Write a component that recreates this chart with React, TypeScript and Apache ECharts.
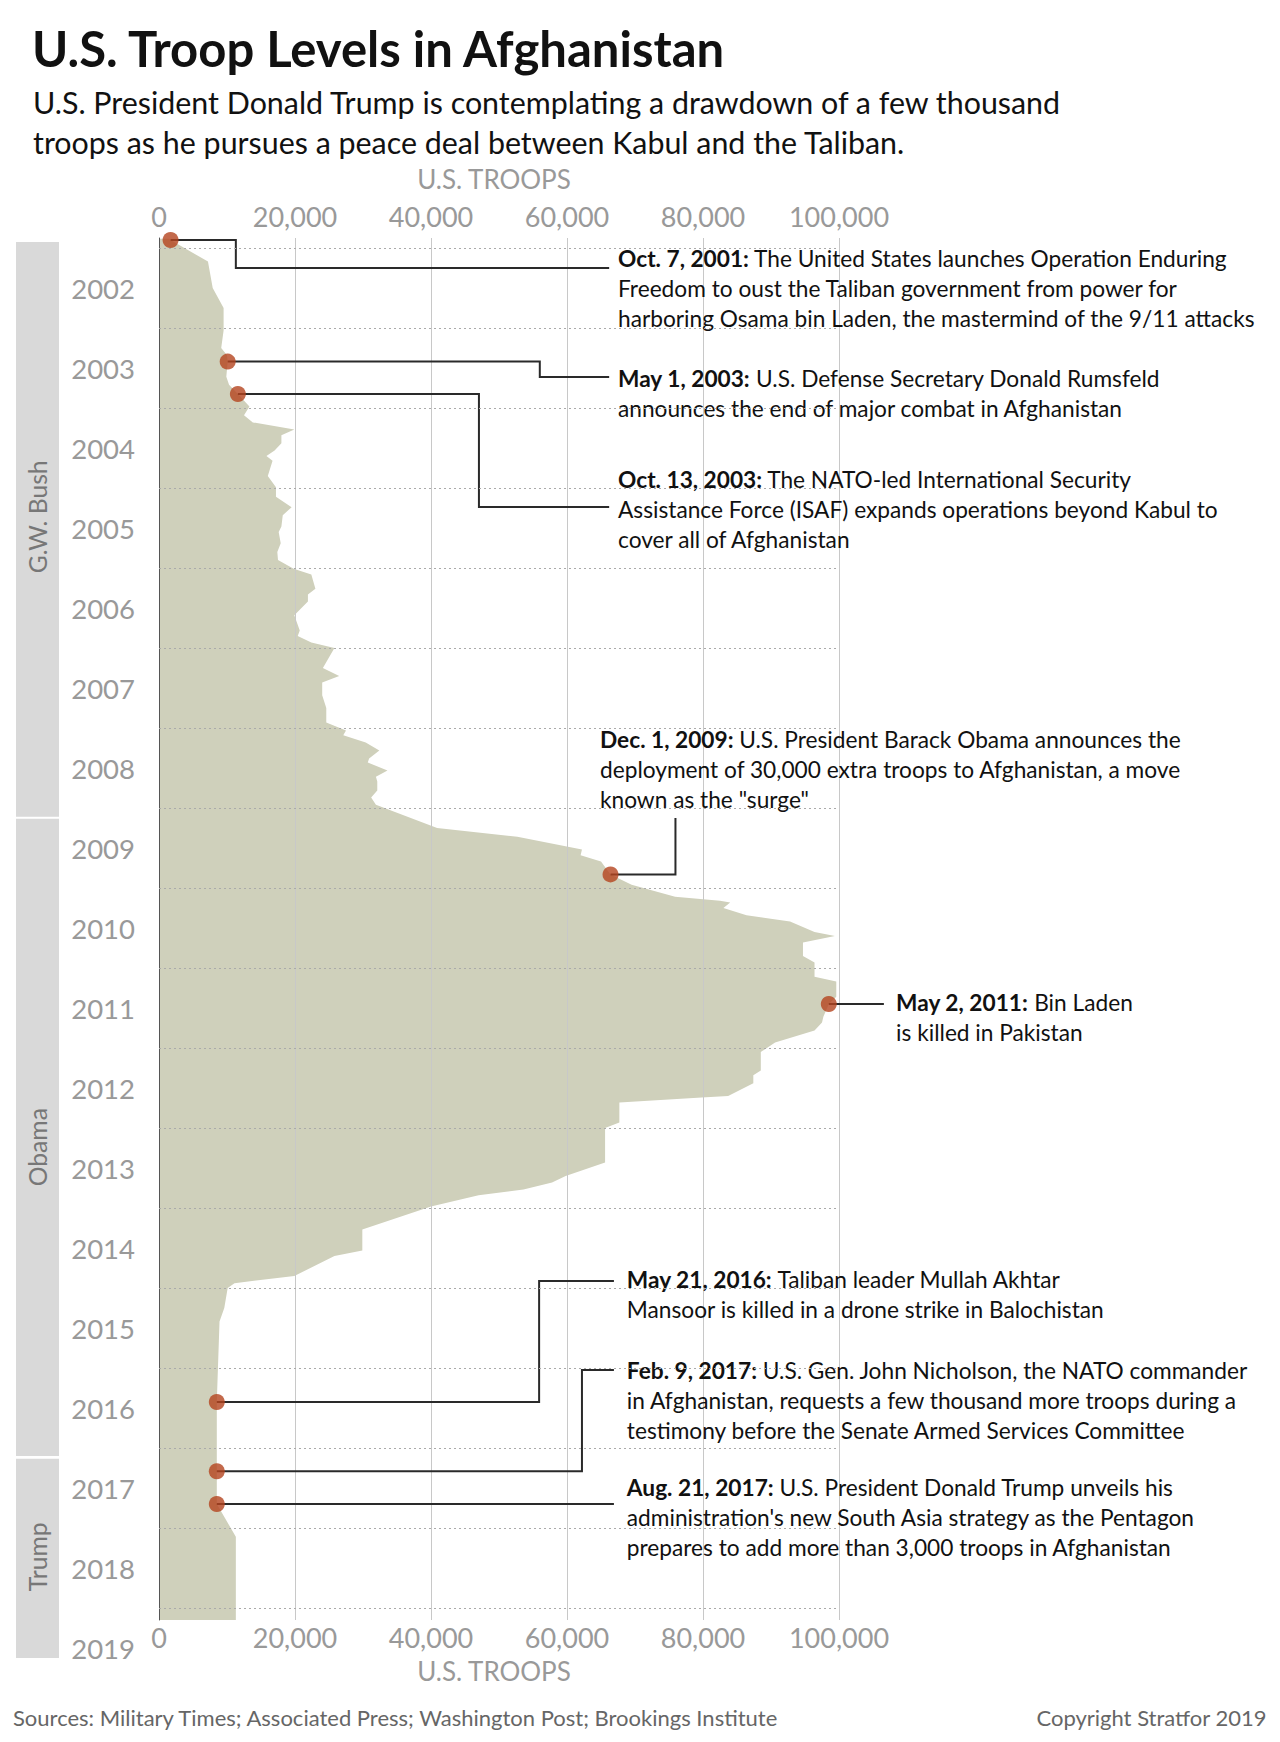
import React, { useEffect, useRef } from "react";
import * as echarts from "echarts";

const FONT = "Lato, 'Open Sans', sans-serif";

// ---------- texts ----------
const TITLE = "U.S. Troop Levels in Afghanistan";
const SUBTITLE =
  "U.S. President Donald Trump is contemplating a drawdown of a few thousand\ntroops as he pursues a peace deal between Kabul and the Taliban.";
const SOURCE_NOTE =
  "Sources: Military Times; Associated Press; Washington Post; Brookings Institute";
const COPYRIGHT = "Copyright Stratfor 2019";
const AXIS_NAME = "U.S. TROOPS";

// ---------- data: troop level curve (fractional year, troops) ----------
const TROOP_YEARS = [
  2001.885, 2001.9, 2002.17, 2002.5, 2002.75, 2003.03, 2003.25, 2003.34, 2003.42,
  2003.61, 2003.71, 2003.825, 2003.98, 2004.09, 2004.18, 2004.27, 2004.34, 2004.44,
  2004.53, 2004.6, 2004.66, 2004.85, 2004.99, 2005.11, 2005.24, 2005.34, 2005.48,
  2005.55, 2005.69, 2005.8, 2005.9, 2006.01, 2006.08, 2006.26, 2006.33, 2006.42,
  2006.59, 2006.78, 2006.85, 2006.93, 2007.0, 2007.25, 2007.35, 2007.43, 2007.59,
  2007.75, 2007.93, 2008.03, 2008.09, 2008.18, 2008.28, 2008.38, 2008.43, 2008.53,
  2008.61, 2008.67, 2008.78, 2008.87, 2008.96, 2009.25, 2009.36, 2009.52, 2009.59,
  2009.67, 2009.83, 2009.96, 2010.11, 2010.16, 2010.18, 2010.25, 2010.34, 2010.42,
  2010.55, 2010.6, 2010.68, 2010.85, 2010.93, 2011.11, 2011.17, 2011.36, 2011.45,
  2011.61, 2011.68, 2011.78, 2011.93, 2012.05, 2012.28, 2012.34, 2012.44, 2012.6,
  2012.62, 2012.68, 2012.93, 2013.0, 2013.43, 2013.6, 2013.68, 2013.77, 2013.84,
  2013.98, 2014.27, 2014.53, 2014.6, 2014.85, 2014.94, 2015.0, 2015.25, 2015.42,
  2016.425, 2017.29, 2017.7, 2018.11, 2019.15,
];
const TROOP_LEVELS = [
  1500, 1700, 7200, 7900, 9500, 9500, 9150, 10000, 10100,
  9900, 10300, 11600, 13300, 12500, 13800, 19900, 18000, 18000,
  17000, 15800, 16700, 16000, 17200, 17200, 19500, 18200, 18000,
  17600, 17900, 17400, 17500, 19800, 22400, 23000, 21900, 21900,
  19900, 20700, 20400, 22400, 25800, 24100, 26500, 24000, 24000,
  24600, 24600, 27500, 27100, 30400, 32400, 30900, 30700, 33600,
  31900, 32100, 32100, 31200, 31900, 40900, 52700, 62200, 62000,
  65000, 66400, 69500, 75900, 82500, 84000, 83000, 86400, 92800,
  96400, 99400, 94700, 94700, 96400, 96400, 99600, 99600, 98500,
  97700, 97500, 96400, 90600, 88500, 88500, 87400, 87400, 83700,
  79800, 67700, 67700, 65600, 65600, 59800, 57800, 53600, 47000,
  40000, 29900, 29900, 25800, 19900, 11100, 10100, 9600, 8900,
  8500, 8500, 8500, 11300, 11300,
];

// axis values
const TROOP_MIN = 0;
const TROOP_MAX = 100000;
const TROOP_STEP = 20000;
const YEAR_LABELS = [
  2002, 2003, 2004, 2005, 2006, 2007, 2008, 2009, 2010, 2011, 2012, 2013, 2014,
  2015, 2016, 2017, 2018, 2019,
];
const YEAR_RULES = [
  2002, 2003, 2004, 2005, 2006, 2007, 2008, 2009, 2010, 2011, 2012, 2013, 2014,
  2015, 2016, 2017, 2018, 2019,
];
const PLOT_YEAR_START = 2001.875;
const PLOT_YEAR_END = 2019.15;
const LABEL_YEAR_END = 2019.625;

// presidencies
const PRESIDENTS = ["G.W. Bush", "Obama", "Trump"];
const TERM_STARTS = [2001.925, 2009.135, 2017.135];
const TERM_ENDS = [2009.11, 2017.1, 2019.625];

// events
const EVENT_DATES = [
  "Oct. 7, 2001:",
  "May 1, 2003:",
  "Oct. 13, 2003:",
  "Dec. 1, 2009:",
  "May 2, 2011:",
  "May 21, 2016:",
  "Feb. 9, 2017:",
  "Aug. 21, 2017:",
];
const EVENT_TEXTS = [
  "The United States launches Operation Enduring\nFreedom to oust the Taliban government from power for\nharboring Osama bin Laden, the mastermind of the 9/11 attacks",
  "U.S. Defense Secretary Donald Rumsfeld\nannounces the end of major combat in Afghanistan",
  "The NATO-led International Security\nAssistance Force (ISAF) expands operations beyond Kabul to\ncover all of Afghanistan",
  "U.S. President Barack Obama announces the\ndeployment of 30,000 extra troops to Afghanistan, a move\nknown as the \"surge\"",
  "Bin Laden\nis killed in Pakistan",
  "Taliban leader Mullah Akhtar\nMansoor is killed in a drone strike in Balochistan",
  "U.S. Gen. John Nicholson, the NATO commander\nin Afghanistan, requests a few thousand more troops during a\ntestimony before the Senate Armed Services Committee",
  "U.S. President Donald Trump unveils his\nadministration's new South Asia strategy as the Pentagon\nprepares to add more than 3,000 troops in Afghanistan",
];
const EVENT_YEARS = [2001.9, 2003.42, 2003.825, 2009.83, 2011.45, 2016.425, 2017.29, 2017.7];
const EVENT_TROOPS = [1700, 10100, 11600, 66400, 98500, 8500, 8500, 8500];

// ---------- annotation layout (in axis units: [troops, year]) ----------
const LEADER_PATHS: number[][][] = [
  [[11300, 2001.9], [11300, 2002.25], [66200, 2002.25]],
  [[56000, 2003.42], [56000, 2003.6125], [66200, 2003.6125]],
  [[47050, 2003.825], [47050, 2005.2375], [66200, 2005.2375]],
  [[75950, 2009.83], [75950, 2009.125]],
  [[106600, 2011.45]],
  [[55900, 2016.425], [55900, 2014.9125], [66900, 2014.9125]],
  [[62200, 2017.29], [62200, 2016.025], [66900, 2016.025]],
  [[66900, 2017.7]],
];
const TEXT_ANCHORS: number[][] = [
  [67500, 2001.9375],
  [67500, 2003.4375],
  [67500, 2004.7],
  [64850, 2007.95],
  [108400, 2011.2375],
  [68800, 2014.7],
  [68800, 2015.8375],
  [68800, 2017.3],
];
// vertical centre of each presidency label (year units)
const PRESIDENT_LABEL_YEARS = [2005.36, 2013.24, 2018.36];

// ---------- styles ----------
const AREA_COLOR = "#cfd0bb";
const MARKER_COLOR = "#b4441e";
const GRAY_TEXT = "#999999";
const BAND_COLOR = "#d9d9d9";

const fmtThousands = (v: number) =>
  Math.round(v).toString().replace(/\B(?=(\d{3})+(?!\d))/g, ",");

export default function App() {
  const ref = useRef<HTMLDivElement>(null);

  useEffect(() => {
    document.body.style.margin = "0";
    if (!ref.current) return;
    const chart = echarts.init(ref.current, undefined, { renderer: "svg" });

    const tickLabel = {
      color: GRAY_TEXT,
      fontSize: 27,
      fontFamily: FONT,
      formatter: (v: number) => fmtThousands(v),
    };

    const option: any = {
      animation: false,
      backgroundColor: "#ffffff",
      title: [
        {
          text: TITLE,
          left: 32,
          top: 23,
          padding: 0,
          textStyle: { fontFamily: FONT, fontSize: 49, fontWeight: "bold", color: "#111111" },
        },
        {
          text: SUBTITLE,
          left: 33,
          top: 82,
          padding: 0,
          textStyle: {
            fontFamily: FONT,
            fontSize: 30.4,
            fontWeight: "normal",
            lineHeight: 40,
            color: "#111111",
          },
        },
        {
          text: SOURCE_NOTE,
          left: 13,
          top: 1706,
          padding: 0,
          textStyle: { fontFamily: FONT, fontSize: 22, fontWeight: "normal", color: "#666666" },
        },
        {
          text: COPYRIGHT,
          right: 13,
          top: 1706,
          padding: 0,
          textStyle: { fontFamily: FONT, fontSize: 22, fontWeight: "normal", color: "#666666" },
        },
      ],
      grid: [
        { left: 159, top: 238, width: 680, height: 1382, outerBoundsMode: "none" },
        { left: 16, top: 238, width: 43, height: 1420, outerBoundsMode: "none" },
      ],
      xAxis: [
        {
          gridIndex: 0,
          type: "value",
          position: "top",
          min: TROOP_MIN,
          max: TROOP_MAX,
          interval: TROOP_STEP,
          axisLine: { show: false, onZero: false },
          axisTick: { show: false },
          axisLabel: { ...tickLabel, margin: 8 },
          splitLine: { show: true, lineStyle: { color: "#c8c8c8", width: 1 } },
          name: AXIS_NAME,
          nameLocation: "middle",
          nameGap: 46,
          nameTextStyle: { color: GRAY_TEXT, fontSize: 26, fontFamily: FONT, padding: [0, 10, 0, 0] },
        },
        {
          gridIndex: 0,
          type: "value",
          position: "bottom",
          min: TROOP_MIN,
          max: TROOP_MAX,
          interval: TROOP_STEP,
          axisLine: { show: false, onZero: false },
          axisTick: { show: false },
          axisLabel: { ...tickLabel, margin: 4 },
          splitLine: { show: false },
          name: AXIS_NAME,
          nameLocation: "middle",
          nameGap: 38,
          nameTextStyle: { color: GRAY_TEXT, fontSize: 26, fontFamily: FONT, padding: [0, 10, 0, 0] },
        },
        { gridIndex: 1, type: "value", min: 0, max: 1, show: false },
      ],
      yAxis: [
        {
          gridIndex: 0,
          type: "value",
          inverse: true,
          min: PLOT_YEAR_START,
          max: PLOT_YEAR_END,
          axisLine: { show: true, onZero: false, lineStyle: { color: "#555555", width: 1 } },
          axisTick: { show: false },
          axisLabel: { show: false },
          splitLine: { show: false },
        },
        {
          gridIndex: 1,
          type: "value",
          inverse: true,
          position: "right",
          min: PLOT_YEAR_START,
          max: LABEL_YEAR_END,
          interval: 0.125,
          axisLine: { show: false },
          axisTick: { show: false },
          splitLine: { show: false },
          axisLabel: {
            show: true,
            align: "right",
            margin: 76,
            color: GRAY_TEXT,
            fontSize: 27.5,
            fontFamily: FONT,
            formatter: (v: number) => {
              const y = Math.floor(v + 1e-6);
              const frac = v - y;
              return Math.abs(frac - 0.5) < 0.01 && YEAR_LABELS.indexOf(y) >= 0 ? String(y) : "";
            },
          },
        },
      ],
      series: [
        // troop level area
        {
          type: "custom",
          xAxisIndex: 0,
          yAxisIndex: 0,
          z: -1,
          silent: true,
          clip: false,
          data: [[0, TROOP_YEARS[0]]],
          renderItem: (_params: any, api: any) => {
            const pts: number[][] = [api.coord([0, TROOP_YEARS[0]])];
            TROOP_YEARS.forEach((t, i) => pts.push(api.coord([TROOP_LEVELS[i], t])));
            pts.push(api.coord([0, TROOP_YEARS[TROOP_YEARS.length - 1]]));
            return { type: "polygon", shape: { points: pts }, style: { fill: AREA_COLOR } };
          },
          markLine: {
            silent: true,
            symbol: ["none", "none"],
            label: { show: false },
            lineStyle: { type: [2, 3], color: "#aaaaaa", width: 1 },
            data: YEAR_RULES.map((y) => ({ yAxis: y })),
          },
        },
        // presidency bands
        {
          type: "custom",
          xAxisIndex: 2,
          yAxisIndex: 1,
          silent: true,
          clip: false,
          data: PRESIDENTS.map((_, i) => [0, TERM_STARTS[i]]),
          renderItem: (params: any, api: any) => {
            const i = params.dataIndex;
            const p0 = api.coord([0, TERM_STARTS[i]]);
            const p1 = api.coord([1, TERM_ENDS[i]]);
            const pl = api.coord([0.5, PRESIDENT_LABEL_YEARS[i]]);
            return {
              type: "group",
              children: [
                {
                  type: "rect",
                  shape: { x: p0[0], y: p0[1], width: p1[0] - p0[0], height: p1[1] - p0[1] },
                  style: { fill: BAND_COLOR },
                },
                {
                  type: "text",
                  x: pl[0],
                  y: pl[1],
                  rotation: Math.PI / 2,
                  style: {
                    text: PRESIDENTS[i],
                    align: "center",
                    verticalAlign: "middle",
                    fontSize: 24.7,
                    fontFamily: FONT,
                    fill: "#777777",
                  },
                },
              ],
            };
          },
        },
        // annotation leaders + texts
        {
          type: "custom",
          xAxisIndex: 0,
          yAxisIndex: 0,
          z: 4,
          silent: true,
          clip: false,
          data: EVENT_TROOPS.map((v, i) => [v, EVENT_YEARS[i]]),
          renderItem: (params: any, api: any) => {
            const i = params.dataIndex;
            const pts = [api.coord([EVENT_TROOPS[i], EVENT_YEARS[i]])].concat(
              LEADER_PATHS[i].map((p) => api.coord(p))
            );
            const a = api.coord(TEXT_ANCHORS[i]);
            return {
              type: "group",
              children: [
                {
                  type: "polyline",
                  shape: { points: pts },
                  style: { stroke: "#2a2a2a", lineWidth: 2, fill: "none" },
                },
                {
                  type: "text",
                  x: a[0],
                  y: a[1],
                  style: {
                    text: "{b|" + EVENT_DATES[i] + "} " + EVENT_TEXTS[i],
                    fontSize: 22.7,
                    fontFamily: FONT,
                    lineHeight: 30,
                    fill: "#111111",
                    align: "left",
                    verticalAlign: "top",
                    rich: {
                      b: {
                        fontSize: 22.7,
                        fontFamily: FONT,
                        fontWeight: "bold",
                        lineHeight: 30,
                        fill: "#111111",
                      },
                    },
                  },
                },
              ],
            };
          },
        },
        // event markers
        {
          type: "scatter",
          xAxisIndex: 0,
          yAxisIndex: 0,
          z: 6,
          silent: true,
          symbol: "circle",
          symbolSize: 16,
          itemStyle: { color: MARKER_COLOR },
          data: EVENT_TROOPS.map((v, i) => [v, EVENT_YEARS[i]]),
        },
      ],
    };

    chart.setOption(option);
    return () => chart.dispose();
  }, []);

  return <div ref={ref} style={{ width: 1280, height: 1742 }} />;
}
